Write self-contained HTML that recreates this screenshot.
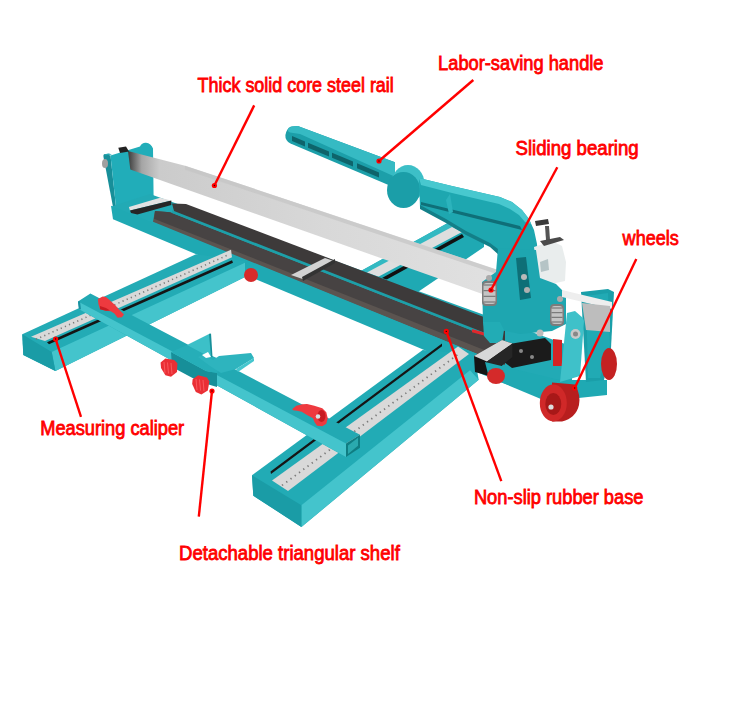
<!DOCTYPE html>
<html><head><meta charset="utf-8"><style>
html,body{margin:0;padding:0;background:#fff;}
svg{display:block;}
text{font-family:"Liberation Sans",sans-serif;font-size:19.5px;font-weight:normal;fill:#f00;stroke:#f00;stroke-width:0.8px;}
</style></head><body>
<svg width="750" height="708" viewBox="0 0 750 708">
<rect width="750" height="708" fill="#fff"/>
<polygon points="350.0,277.0 455.0,219.0 484.0,232.0 484.0,247.0 412.0,296.0" fill="#1fa9b3" />
<polygon points="350.0,277.0 455.0,219.0 463.0,223.0 358.0,281.0" fill="#33b9c2" />
<polygon points="366.0,273.0 452.0,227.0 462.0,232.0 376.0,278.0" fill="#dedede" />
<polygon points="382.0,278.0 462.0,234.0 464.0,237.0 384.0,281.0" fill="#111" />
<path d="M103.5,157 Q103,154 105,154 L110.5,155.4 L116.2,209 L113.4,209 Z" fill="#178f99"/>
<path d="M104.5,155.5 Q106,153 109,153.5 L112,154.5 Z" fill="#20a8b2"/>
<path d="M110.5,155.4 L140,146.5 Q142,142.5 146,142.8 Q151,143.5 153,148.4 L153.6,197 L116.2,209 Z" fill="#21adb9"/>
<ellipse cx="105" cy="163.5" rx="3" ry="4.5" fill="#a0a0a0"/>
<polygon points="111.0,206.7 150.0,194.0 572.0,346.6 572.0,393.4" fill="#22aab5" />
<polygon points="153.0,221.7 155.0,211.1 170.0,212.2 505.0,343.6 505.0,365.2" fill="#5b5450" />
<polygon points="154.0,218.7 155.0,211.1 170.0,212.2 505.0,343.6 505.0,358.2" fill="#474343" />
<polygon points="172.0,210.2 505.0,340.8 505.0,343.6 172.0,213.0" fill="#1d9fa8" />
<polygon points="172.0,203.6 186.0,203.9 505.0,325.1 505.0,340.8 174.0,211.0" fill="#3d3a3a" />
<polygon points="472.0,329.0 484.0,332.5 484.0,335.5 472.0,332.2" fill="#e0282d" />
<polygon points="128.9,207.0 160.0,197.8 171.3,200.6 130.0,210.5" fill="#e2e2e2" />
<polygon points="130.0,210.5 171.3,200.6 171.3,205.0 137.4,214.5 131.0,213.0" fill="#262626" />
<polygon points="291.0,275.0 325.0,258.0 334.6,261.2 304.0,279.6" fill="#d2d2d2" />
<polygon points="302.0,277.0 335.0,259.0 335.0,263.0 303.0,281.0" fill="#333" />
<polygon points="111.0,205.7 572.0,392.4 572.0,412.1 113.0,219.3" fill="#1fa9b3" />
<defs><linearGradient id="rg" x1="128" y1="0" x2="520" y2="0" gradientUnits="userSpaceOnUse"><stop offset="0" stop-color="#3a3a3a"/><stop offset="0.035" stop-color="#a5a5a5"/><stop offset="0.08" stop-color="#cbcbcb"/><stop offset="0.5" stop-color="#d8d8d8"/><stop offset="1" stop-color="#e2e2e2"/></linearGradient></defs>
<polygon points="128.0,151.0 185.0,165.7 520.0,277.3 520.0,307.3 130.3,169.5" fill="url(#rg)" />
<polygon points="185.0,165.7 520.0,277.3 520.0,281.8 185.0,169.7" fill="#c4c4c4" opacity="0.7"/>
<polygon points="118.3,147.7 126.0,146.5 129.0,151.5 120.0,153.0" fill="#222" />
<polygon points="22.3,334.3 196.0,254.2 245.0,260.9 245.0,277.1 55.4,371.0 23.3,355.0" fill="#23abb5" />
<polygon points="51.7,352.1 245.0,262.8 245.0,277.1 55.4,371.0" fill="#44c4cc" />
<polygon points="22.3,334.3 51.7,352.1 55.4,371.0 23.3,355.0" fill="#1a9ca6" />
<polygon points="31.0,336.8 231.0,249.8 232.0,257.2 45.0,341.1" fill="#d9d9d9" />
<line x1="36" y1="339.3" x2="228" y2="255.0" stroke="#7a7a7a" stroke-width="1.6" stroke-dasharray="1.2 3.3"/>
<polygon points="47.0,342.2 232.0,260.2 233.0,262.8 49.0,344.3" fill="#151515" />
<polygon points="252.0,475.2 422.7,350.0 474.0,354.0 478.7,379.8 301.4,527.0 253.3,495.7" fill="#22abb5" />
<polygon points="301.4,505.2 470.0,370.3 478.7,379.8 301.4,527.0" fill="#44c4cc" />
<polygon points="252.0,475.2 301.4,505.2 301.4,527.0 253.3,495.7" fill="#1a9ca6" />
<polygon points="270.5,471.5 442.0,343.5 442.0,346.3 271.0,474.0" fill="#151515" />
<polygon points="272.0,480.4 458.0,346.4 469.0,354.0 288.0,491.0" fill="#d9d9d9" />
<line x1="282" y1="485.4" x2="460" y2="352.9" stroke="#7a7a7a" stroke-width="1.8" stroke-dasharray="1.3 4"/>
<polygon points="78.0,301.4 90.4,293.5 360.0,434.7 346.0,443.5 346.0,456.9 79.0,309.2" fill="#22a9b3" />
<polygon points="79.0,302.0 346.0,443.5 346.0,456.9 79.0,309.2" fill="#44c4cc" />
<polygon points="78.0,301.4 79.0,309.2 81.0,309.3 80.0,301.5" fill="#1990a0" />
<polygon points="346.0,443.5 360.0,434.7 360.0,447.7 346.0,456.9" fill="#0f7d82" />
<polygon points="348.0,445.5 358.0,437.7 358.0,445.7 348.0,453.9" fill="#2aa9ae" />
<polygon points="171.0,352.0 206.0,371.0 217.0,373.0 217.0,387.0 200.0,382.0 172.0,367.0" fill="#178f99" />
<polygon points="171.0,352.0 187.0,345.0 226.0,362.0 217.0,373.0 206.0,371.0" fill="#26aeb8" />
<polygon points="187.0,345.0 210.0,333.6 211.5,357.0 204.0,354.0" fill="#3cc0c8" />
<polygon points="209.0,334.0 211.0,333.6 212.5,357.0 211.0,357.0" fill="#178f99" />
<polygon points="198.0,357.0 203.0,355.0 213.0,360.0 219.0,356.0 251.0,353.0 254.0,358.0 236.0,369.0 221.0,373.0 210.0,366.0" fill="#2eb4be" />
<polygon points="236.0,369.0 254.0,358.0 254.0,361.0 238.0,372.0" fill="#45c6ce" />
<polygon points="202.0,355.0 208.0,352.0 211.0,357.0 206.0,358.0" fill="#ffffff" />
<path d="M297.8,125.9 L395,162.3 L395,187.7 L290.5,143.6 Q285,140.5 285.4,135 Q286.5,128.5 291,126.5 Z" fill="#1c9fa9"/>
<path d="M297.8,125.9 L395,162.3 L395,176.8 L300,134 L290,132.5 Q286.5,131 288.5,128 Q292,126 297.8,125.9 Z" fill="#36bac3"/>
<polygon points="292.0,135.9 305.0,141.4 305.0,146.4 292.0,140.9" fill="#0e646b" />
<polygon points="308.0,142.7 329.0,151.5 329.0,156.5 308.0,147.7" fill="#0e646b" />
<polygon points="332.0,152.7 353.0,161.6 353.0,166.6 332.0,157.7" fill="#0e646b" />
<polygon points="357.0,163.2 379.0,172.5 379.0,177.5 357.0,168.2" fill="#0e646b" />
<ellipse cx="408" cy="183.5" rx="16.5" ry="18.5" fill="#3dbfc7"/>
<ellipse cx="403.5" cy="190" rx="16.5" ry="18" fill="#1b9ea8"/>
<polygon points="419.0,178.0 452.0,186.0 500.0,197.0 512.0,202.0 522.0,210.0 529.0,219.0 534.0,230.0 537.0,244.0 538.0,258.0 520.0,262.0 502.0,256.0 492.0,247.0 466.0,234.0 446.0,222.0 420.0,208.0" fill="#1ea7b0" />
<polygon points="419.0,178.0 452.0,186.0 500.0,197.0 512.0,202.0 522.0,210.0 529.0,219.0 531.0,224.0 525.0,222.0 519.0,215.0 510.0,209.0 499.0,204.0 452.0,193.0 421.0,185.0" fill="#48c8cf" />
<polygon points="421.0,202.0 520.0,226.0 522.0,230.0 421.0,205.0" fill="#0f6f78" />
<polygon points="420.0,205.0 446.0,219.0 466.0,231.0 490.0,243.0 502.0,252.0 500.0,256.0 490.0,247.0 466.0,235.0 446.0,223.0 420.0,209.0" fill="#137f88" />
<polygon points="446.0,200.0 450.0,194.0 453.0,212.0 449.0,214.0" fill="#2cb3bc" />
<polygon points="534.0,247.0 552.0,241.0 562.0,246.0 566.0,262.0 565.0,281.0 546.0,285.0 538.0,276.0" fill="#e9eded" />
<polygon points="545.0,226.0 549.0,226.0 550.0,240.0 546.0,240.0" fill="#555" />
<polygon points="535.0,221.0 548.0,219.0 549.0,224.0 536.0,226.0" fill="#3a3a3a" />
<polygon points="540.0,241.0 560.0,237.0 564.0,240.0 544.0,246.0" fill="#4a4a4a" />
<polygon points="498.0,248.0 536.0,250.0 540.0,278.0 556.0,284.0 566.0,294.0 566.0,324.0 552.0,331.0 520.0,334.0 500.0,330.0 483.0,322.0 482.0,282.0 496.0,272.0" fill="#1ea6b0" />
<polygon points="516.0,258.0 526.0,257.0 531.0,298.0 520.0,300.0" fill="#0e6f77" />
<circle cx="524" cy="277" r="3" fill="#b9b9b9"/><circle cx="527" cy="290" r="3" fill="#b0b0b0"/>
<polygon points="540.0,262.0 548.0,259.0 549.0,270.0 541.0,272.0" fill="#b5c4c6" />
<rect x="482" y="281" width="15" height="25" rx="4" fill="#7c7c7c"/>
<rect x="483.5" y="283" width="12" height="21" rx="3" fill="#c4c4c4"/>
<line x1="483.5" y1="285.0" x2="495.5" y2="285.0" stroke="#6a6a6a" stroke-width="1"/>
<line x1="483.5" y1="290.7" x2="495.5" y2="290.7" stroke="#6a6a6a" stroke-width="1"/>
<line x1="483.5" y1="296.3" x2="495.5" y2="296.3" stroke="#6a6a6a" stroke-width="1"/>
<line x1="483.5" y1="302.0" x2="495.5" y2="302.0" stroke="#6a6a6a" stroke-width="1"/>
<rect x="550" y="304" width="14" height="22" rx="4" fill="#7c7c7c"/>
<rect x="551.5" y="306" width="11" height="18" rx="3" fill="#c4c4c4"/>
<line x1="551.5" y1="308.0" x2="562.5" y2="308.0" stroke="#6a6a6a" stroke-width="1"/>
<line x1="551.5" y1="312.7" x2="562.5" y2="312.7" stroke="#6a6a6a" stroke-width="1"/>
<line x1="551.5" y1="317.3" x2="562.5" y2="317.3" stroke="#6a6a6a" stroke-width="1"/>
<line x1="551.5" y1="322.0" x2="562.5" y2="322.0" stroke="#6a6a6a" stroke-width="1"/>
<circle cx="489" cy="278" r="3" fill="#aaa"/><circle cx="560" cy="299" r="3" fill="#aaa"/><circle cx="540" cy="333" r="3.5" fill="#bbb"/>
<polygon points="483.0,322.0 500.0,322.0 504.0,330.0 502.0,343.0 490.0,343.0 484.0,336.0" fill="#22acb5" />
<polygon points="504.0,345.0 545.0,338.0 551.0,344.0 551.0,360.0 512.0,368.0 504.0,362.0" fill="#1b1b1b" />
<circle cx="521" cy="351" r="2" fill="#888"/><circle cx="532" cy="357" r="2" fill="#888"/>
<polygon points="474.0,356.0 502.0,340.0 512.5,343.5 512.5,357.0 489.0,376.0 475.0,372.0" fill="#151515" />
<polygon points="474.0,356.0 502.0,340.0 512.5,343.5 487.0,361.6" fill="#d8d8d8" />
<polygon points="487.0,361.6 512.5,343.5 512.5,357.0 489.0,376.0" fill="#262626" />
<polygon points="485.0,362.0 560.0,380.0 607.0,380.0 607.0,395.0 569.0,399.0 540.0,396.0 489.0,378.0" fill="#1fa9b3" />
<polygon points="553.0,339.0 562.0,340.0 562.0,366.0 553.0,366.0" fill="#d42424" />
<polygon points="581.0,292.0 608.0,289.0 614.0,292.0 611.0,348.0 604.0,380.0 586.0,382.0" fill="#1a9fa9" />
<polygon points="586.0,296.0 608.0,293.0 610.0,345.0 600.0,378.0 588.0,378.0" fill="#21aab4" />
<polygon points="562.0,290.0 612.0,302.0 612.0,309.0 562.0,297.0" fill="#eeeeee" />
<polygon points="582.0,303.0 610.0,306.0 610.0,332.0 586.0,330.0" fill="#bdbdbd" />
<polygon points="567.0,313.0 575.0,311.0 583.0,318.0 584.0,321.0 580.0,376.0 560.0,382.0" fill="#3fc1c9" />
<circle cx="575.5" cy="334" r="5" fill="#c9c9c9"/><circle cx="575.5" cy="334" r="2.5" fill="#888"/>
<ellipse cx="609" cy="364" rx="8" ry="16" fill="#c42222"/>
<path d="M552,382.5 L575,384.5 Q581,395 579,405 Q576,418 562,421.5 L552,421.5 Z" fill="#b81e1e"/>
<ellipse cx="553.3" cy="403" rx="13.5" ry="18.5" fill="#d02828"/>
<ellipse cx="553.3" cy="404" rx="8" ry="11" fill="#a81818"/>
<circle cx="551" cy="407" r="2.6" fill="#ddd"/>
<ellipse cx="251" cy="275" rx="7" ry="7" fill="#d82a2a"/>
<polygon points="160.6,362.4 165.4,358.4 174.2,360.0 177.4,363.2 177.0,372.0 171.0,376.8 165.4,375.2 161.0,368.0" fill="#ea2f35" />
<polygon points="192.6,379.2 198.2,375.2 207.0,377.6 209.4,381.6 207.8,390.4 201.4,394.4 195.8,392.0 192.2,384.0" fill="#ea2f35" />
<line x1="164.0" y1="362.0" x2="165.0" y2="373.0" stroke="#ff6a6e" stroke-width="0.9" opacity="0.8"/>
<line x1="167.5" y1="362.5" x2="168.5" y2="373.5" stroke="#ff6a6e" stroke-width="0.9" opacity="0.8"/>
<line x1="171.0" y1="363.0" x2="172.0" y2="374.0" stroke="#ff6a6e" stroke-width="0.9" opacity="0.8"/>
<line x1="196.0" y1="379.0" x2="197.0" y2="390.0" stroke="#ff6a6e" stroke-width="0.9" opacity="0.8"/>
<line x1="199.5" y1="379.5" x2="200.5" y2="390.5" stroke="#ff6a6e" stroke-width="0.9" opacity="0.8"/>
<line x1="203.0" y1="380.0" x2="204.0" y2="391.0" stroke="#ff6a6e" stroke-width="0.9" opacity="0.8"/>
<ellipse cx="496" cy="376" rx="9" ry="8" fill="#d42a2a"/>
<polygon points="97.9,299.1 102.7,296.4 105.9,296.9 109.6,300.1 115.5,305.5 119.7,310.3 124.0,314.5 121.9,317.2 117.6,317.7 114.4,313.5 110.7,311.3 105.9,310.8 100.0,309.2 98.4,303.9" fill="#ee3a3f" />
<polygon points="100.0,306.0 106.0,308.0 110.0,310.5 105.9,310.8 100.0,309.2" fill="#c81c22" />
<polygon points="292.3,409.0 296.3,405.7 302.3,404.3 307.0,404.0 314.3,405.7 322.3,408.3 326.3,412.3 327.7,418.3 326.3,423.7 322.3,426.3 317.0,425.7 314.3,421.7 313.0,418.3 307.0,415.0 301.7,411.7 297.0,410.7 293.0,410.3" fill="#ee3a3f" />
<ellipse cx="321.5" cy="416" rx="4" ry="6" fill="#c81c22"/>
<circle cx="318" cy="416.5" r="2.3" fill="#d8e4e6"/>
<line x1="473.3" y1="80" x2="379" y2="161" stroke="#f00" stroke-width="2.4"/>
<circle cx="379" cy="161" r="2.6" fill="#f00"/><circle cx="379" cy="161" r="0.7" fill="#300"/>
<line x1="254.2" y1="105.4" x2="214.4" y2="185.5" stroke="#f00" stroke-width="2.4"/>
<circle cx="214.4" cy="185.5" r="2.6" fill="#f00"/><circle cx="214.4" cy="185.5" r="0.7" fill="#300"/>
<line x1="557.3" y1="167.3" x2="491" y2="290" stroke="#f00" stroke-width="2.4"/>
<circle cx="491" cy="290" r="2.6" fill="#f00"/><circle cx="491" cy="290" r="0.7" fill="#300"/>
<line x1="636.3" y1="258.9" x2="574.7" y2="388" stroke="#f00" stroke-width="2.4"/>
<circle cx="574.7" cy="388" r="2.6" fill="#f00"/><circle cx="574.7" cy="388" r="0.7" fill="#300"/>
<line x1="81" y1="416.8" x2="55.6" y2="339" stroke="#f00" stroke-width="2.4"/>
<circle cx="55.6" cy="339" r="2.6" fill="#f00"/><circle cx="55.6" cy="339" r="0.7" fill="#300"/>
<line x1="501.3" y1="481.2" x2="446.3" y2="331.4" stroke="#f00" stroke-width="2.4"/>
<circle cx="446.3" cy="331.4" r="2.6" fill="#f00"/><circle cx="446.3" cy="331.4" r="0.7" fill="#300"/>
<line x1="198.8" y1="516.6" x2="212" y2="391" stroke="#f00" stroke-width="2.4"/>
<circle cx="212" cy="391" r="2.6" fill="#f00"/><circle cx="212" cy="391" r="0.7" fill="#300"/>
<text x="438.1" y="70.1" textLength="165.4" lengthAdjust="spacingAndGlyphs">Labor-saving handle</text>
<text x="197.6" y="92" textLength="196.2" lengthAdjust="spacingAndGlyphs">Thick solid core steel rail</text>
<text x="515.5" y="155.3" textLength="123.2" lengthAdjust="spacingAndGlyphs">Sliding bearing</text>
<text x="622.6" y="244.7" textLength="56.2" lengthAdjust="spacingAndGlyphs">wheels</text>
<text x="40.2" y="434.5" textLength="144" lengthAdjust="spacingAndGlyphs">Measuring caliper</text>
<text x="473.9" y="503.9" textLength="169.6" lengthAdjust="spacingAndGlyphs">Non-slip rubber base</text>
<text x="179" y="559.8" textLength="220.8" lengthAdjust="spacingAndGlyphs">Detachable triangular shelf</text>
</svg></body></html>
